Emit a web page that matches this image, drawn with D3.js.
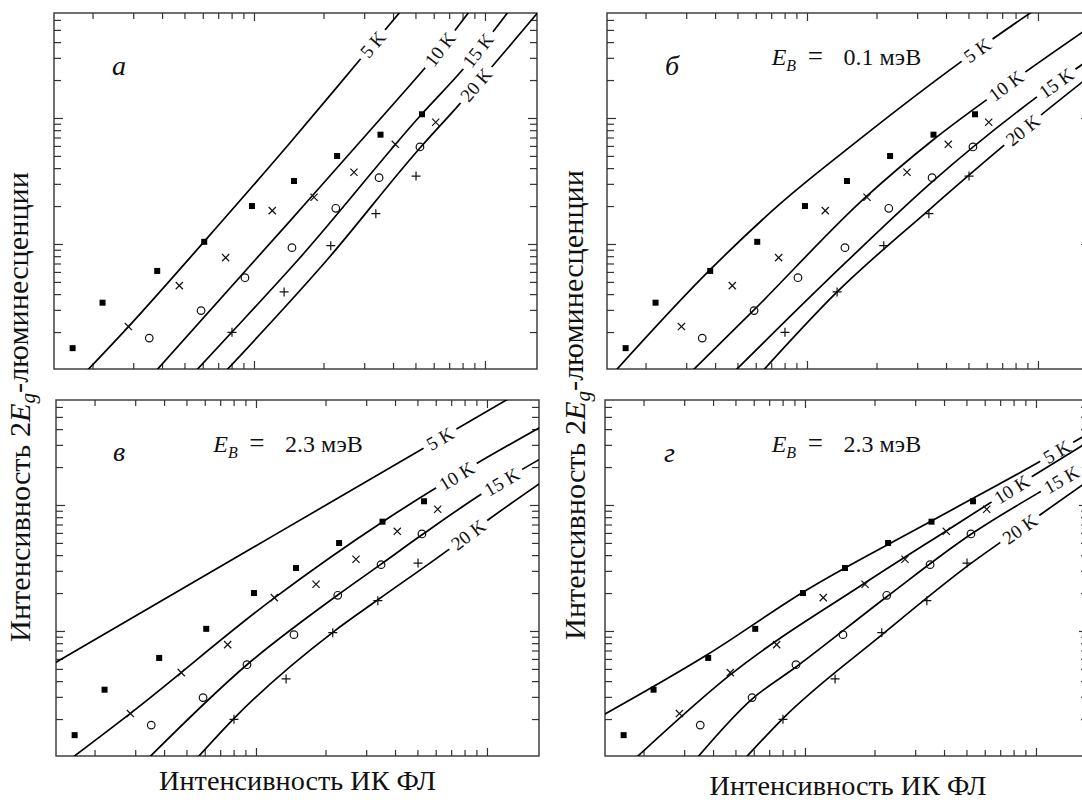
<!DOCTYPE html>
<html><head><meta charset="utf-8">
<script src="https://cdn.jsdelivr.net/npm/d3@7/dist/d3.min.js"></script>
<style>
body{margin:0;background:#fff;}
svg{display:block;}
svg text{font-family:"Liberation Serif","Times New Roman",serif;fill:#111;}
</style></head><body>
<svg id="chart" width="1082" height="800" font-family="Liberation Serif, Times New Roman, serif"></svg>
<script>
// ---- experimental points (same in every panel) ----
const squaresX = [1.64, 2.21, 3.81, 6.09, 9.80, 14.9, 22.9, 35.3, 53.4];
const squaresY = [1.49, 3.42, 6.11, 10.4, 20.0, 31.6, 49.9, 73.7, 107];
const crossesX = [2.86, 4.75, 7.54, 12.0, 18.2, 27.1, 40.9, 61.2];
const crossesY = [2.21, 4.67, 7.79, 18.4, 23.5, 37.1, 61.8, 92.5];
const circlesX = [3.52, 5.90, 9.14, 14.6, 22.6, 34.8, 52.3];
const circlesY = [1.79, 2.96, 5.40, 9.35, 19.2, 33.6, 58.9];
const plusX = [8.03, 13.5, 21.5, 33.7, 50.3];
const plusY = [1.99, 4.16, 9.69, 17.4, 34.6];

// ---- model curves [x, y] ----
const curveA5  = [[1.87,0.964],[2.85,2.19],[6.07,10.4],[14.3,63.3],[28.2,278],[43.3,707]];
const curveA10 = [[3.73,0.964],[14.3,15.2],[41.6,139],[57.8,278],[85.3,694]];
const curveA15 = [[5.55,0.964],[8.03,2.00],[15.5,7.46],[53.4,108],[81.9,254],[126,694]];
const curveA20 = [[7.49,0.964],[20.7,7.46],[52.3,57.8],[75.6,122],[182,803]];

const curveB5  = [[1.45,0.941],[3.80,6.22],[7.64,20.8],[16.4,64.9],[45.9,275],[92.3,677],[113,864]];
const curveB10 = [[3.12,0.947],[5.84,2.94],[17.8,23.2],[35.1,66.9],[72.7,180],[186,600]];
const curveB15 = [[4.78,0.947],[14.8,7.20],[34.8,31.1],[99.0,147],[186,334]];
const curveB20 = [[6.32,0.947],[13.5,4.16],[33.7,18.6],[77.9,69.4],[186,250]];

const curveC5  = [[1.28,5.28],[11.9,57.1],[130,733]];
const curveC10 = [[1.54,0.935],[2.86,2.22],[12.1,18.5],[35.4,73.7],[93.3,221],[170,413]];
const curveC15 = [[3.34,0.935],[9.11,5.37],[22.6,19.3],[34.7,33.8],[52.7,58.5],[93.3,120],[170,232]];
const curveC20 = [[5.43,0.935],[7.98,2.00],[21.5,9.76],[33.6,17.6],[68.0,44.0],[101,76.0],[170,149]];

const curveD5  = [[1.30,2.09],[3.80,6.53],[9.84,20.4],[35.1,74.2],[104,221],[177,389]];
const curveD10 = [[1.80,0.935],[4.74,4.48],[17.9,23.6],[40.4,61.4],[101,178],[166,312]];
const curveD15 = [[3.33,0.935],[5.88,2.87],[9.11,5.15],[22.6,18.7],[52.3,58.5],[108,132],[177,221]];
const curveD20 = [[5.39,0.935],[7.98,2.00],[21.3,9.18],[50.1,32.4],[104,83.3],[177,166]];

// curve labels and where (x value) they sit on each curve
const tempLabels = ["5 K", "10 K", "15 K", "20 K"];
const labelXA = [32.7, 63.9, 93.3, 91.4];
const labelXB = [54.6, 72.7, 120, 85.9];
const labelXC = [62.6, 73.9, 116, 83.0];
const labelXD = [123, 78.5, 129, 85.2];

const panelLetters = ["а", "б", "в", "г"];
const ebValues = [null, "0.1 мэВ", "2.3 мэВ", "2.3 мэВ"];

// axis ticks
const xMajor = [10, 100];
const xMinor = [2,3,4,5,6,7,8,9,20,30,40,50,60,70,80,90];
const yMajor = [10, 100];
const yMinor = [2,3,4,5,6,7,8,9,20,30,40,50,60,70,80,90,200,300,400,500,600];
const xDomain = [1.362, 168.0];
const yDomain = [1.018, 681];

// ---- layout ----
const W = 483, H = 356;
const FONT = "Liberation Serif, Times New Roman, serif";
const panels = [
  {left:54,  top:13,  curves:[curveA5,curveA10,curveA15,curveA20], labelX:labelXA, letterPos:[58,62], ebPos:null},
  {left:607, top:13,  curves:[curveB5,curveB10,curveB15,curveB20], labelX:labelXB, letterPos:[58,62], ebPos:[164.7,52]},
  {left:56,  top:400, curves:[curveC5,curveC10,curveC15,curveC20], labelX:labelXC, letterPos:[57,61], ebPos:[157.3,52]},
  {left:605, top:400, curves:[curveD5,curveD10,curveD15,curveD20], labelX:labelXD, letterPos:[59,62], ebPos:[166.7,52]}
];

const svg = d3.select("#chart");
const x = d3.scaleLog().domain(xDomain).range([0, W]);
const y = d3.scaleLog().domain(yDomain).range([H, 0]);
const line = d3.line().x(d => x(d[0])).y(d => y(d[1])).curve(d3.curveMonotoneX);
const axisColor = "#333";

function styleAxis(g) {
  g.select(".domain").remove();
  g.selectAll("line").attr("stroke", axisColor).attr("stroke-width", 1.2);
}

panels.forEach((p, i) => {
  const g = svg.append("g").attr("transform", `translate(${p.left},${p.top})`);
  const clipId = "clip" + i;
  g.append("clipPath").attr("id", clipId).append("rect").attr("width", W).attr("height", H);

  const ax = g.append("g");
  ax.append("g").attr("transform", `translate(0,${H})`).call(d3.axisBottom(x).tickValues(xMinor).tickSize(-6).tickFormat("")).call(styleAxis);
  ax.append("g").attr("transform", `translate(0,${H})`).call(d3.axisBottom(x).tickValues(xMajor).tickSize(-8).tickFormat("")).call(styleAxis);
  ax.append("g").call(d3.axisTop(x).tickValues(xMinor).tickSize(-6).tickFormat("")).call(styleAxis);
  ax.append("g").call(d3.axisTop(x).tickValues(xMajor).tickSize(-8).tickFormat("")).call(styleAxis);
  ax.append("g").call(d3.axisLeft(y).tickValues(yMinor).tickSize(-7).tickFormat("")).call(styleAxis);
  ax.append("g").call(d3.axisLeft(y).tickValues(yMajor).tickSize(-9).tickFormat("")).call(styleAxis);
  ax.append("g").attr("transform", `translate(${W},0)`).call(d3.axisRight(y).tickValues(yMinor).tickSize(-7).tickFormat("")).call(styleAxis);
  ax.append("g").attr("transform", `translate(${W},0)`).call(d3.axisRight(y).tickValues(yMajor).tickSize(-9).tickFormat("")).call(styleAxis);
  g.append("rect").attr("width", W).attr("height", H).attr("fill", "none").attr("stroke", axisColor).attr("stroke-width", 1.4);

  const plot = g.append("g").attr("clip-path", `url(#${clipId})`);
  p.curves.forEach(c => {
    plot.append("path").attr("d", line(c)).attr("fill", "none").attr("stroke", "#000").attr("stroke-width", 1.7);
  });
  p.curves.forEach((c, k) => {
    const pts = c.map(d => [x(d[0]), y(d[1])]);
    const lx = x(p.labelX[k]);
    let j = 0;
    while (j < pts.length - 2 && pts[j + 1][0] < lx) j++;
    const a = pts[j], b = pts[j + 1];
    const t = (lx - a[0]) / (b[0] - a[0]);
    const ly = a[1] + t * (b[1] - a[1]);
    const ang = Math.atan2(b[1] - a[1], b[0] - a[0]) * 180 / Math.PI;
    const lg = plot.append("g").attr("transform", `translate(${lx},${ly}) rotate(${ang})`);
    const rect = lg.append("rect").attr("fill", "#fff");
    const txt = lg.append("text").attr("text-anchor", "middle").attr("dominant-baseline", "central")
      .attr("font-family", FONT).attr("font-size", 19).text(tempLabels[k]);
    const len = txt.node().getComputedTextLength();
    rect.attr("x", -len / 2 - 5).attr("y", -6).attr("width", len + 10).attr("height", 12);
  });

  const mk = plot.append("g");
  squaresX.forEach((v, k) => {
    mk.append("rect").attr("x", x(v) - 3).attr("y", y(squaresY[k]) - 3).attr("width", 6).attr("height", 6).attr("fill", "#000");
  });
  crossesX.forEach((v, k) => {
    mk.append("path").attr("transform", `translate(${x(v)},${y(crossesY[k])})`)
      .attr("d", "M-3.6,-3.6L3.6,3.6M-3.6,3.6L3.6,-3.6").attr("stroke", "#111").attr("stroke-width", 1.2).attr("fill", "none");
  });
  circlesX.forEach((v, k) => {
    mk.append("circle").attr("cx", x(v)).attr("cy", y(circlesY[k])).attr("r", 3.8)
      .attr("fill", "none").attr("stroke", "#111").attr("stroke-width", 1.2);
  });
  plusX.forEach((v, k) => {
    mk.append("path").attr("transform", `translate(${x(v)},${y(plusY[k])})`)
      .attr("d", "M-4.5,0H4.5M0,-4.5V4.5").attr("stroke", "#111").attr("stroke-width", 1.2).attr("fill", "none");
  });

  g.append("text").attr("x", p.letterPos[0]).attr("y", p.letterPos[1]).attr("font-family", FONT).attr("font-size", 28)
    .attr("font-style", "italic").text(panelLetters[i]);

  if (p.ebPos) {
    const t = g.append("text").attr("x", p.ebPos[0]).attr("y", p.ebPos[1]).attr("font-family", FONT).attr("font-size", 24);
    t.append("tspan").attr("font-style", "italic").text("E");
    t.append("tspan").attr("font-style", "italic").attr("font-size", 16).attr("dy", 6).text("B");
    t.append("tspan").attr("x", p.ebPos[0] + 36).attr("dy", -6).attr("font-size", 27).text("=");
    t.append("tspan").attr("x", p.ebPos[0] + 71.7).text(ebValues[i]);
  }
});

// axis titles
function fitSize(sel, target, base) {
  const len = sel.node().getComputedTextLength();
  sel.attr("font-size", base * target / len);
}
function yTitle(cx, cy, target) {
  const t = svg.append("text").attr("transform", `translate(${cx},${cy}) rotate(-90)`)
    .attr("text-anchor", "middle").attr("font-family", FONT).attr("font-size", 26);
  t.append("tspan").text("Интенсивность 2");
  t.append("tspan").attr("font-style", "italic").text("E");
  t.append("tspan").attr("font-style", "italic").attr("font-size", "0.7em").attr("dy", "0.25em").text("g");
  t.append("tspan").attr("dy", "-0.25em").text("-люминесценции");
  fitSize(t, target, 26);
}
yTitle(30, 407, 470);
yTitle(585, 405, 470);
const xt1 = svg.append("text").attr("x", 297.5).attr("y", 790).attr("text-anchor", "middle").attr("font-family", FONT).attr("font-size", 26).text("Интенсивность ИК ФЛ");
fitSize(xt1, 277, 26);
const xt2 = svg.append("text").attr("x", 848).attr("y", 795).attr("text-anchor", "middle").attr("font-family", FONT).attr("font-size", 26).text("Интенсивность ИК ФЛ");
fitSize(xt2, 277, 26);
</script>
</body></html>
